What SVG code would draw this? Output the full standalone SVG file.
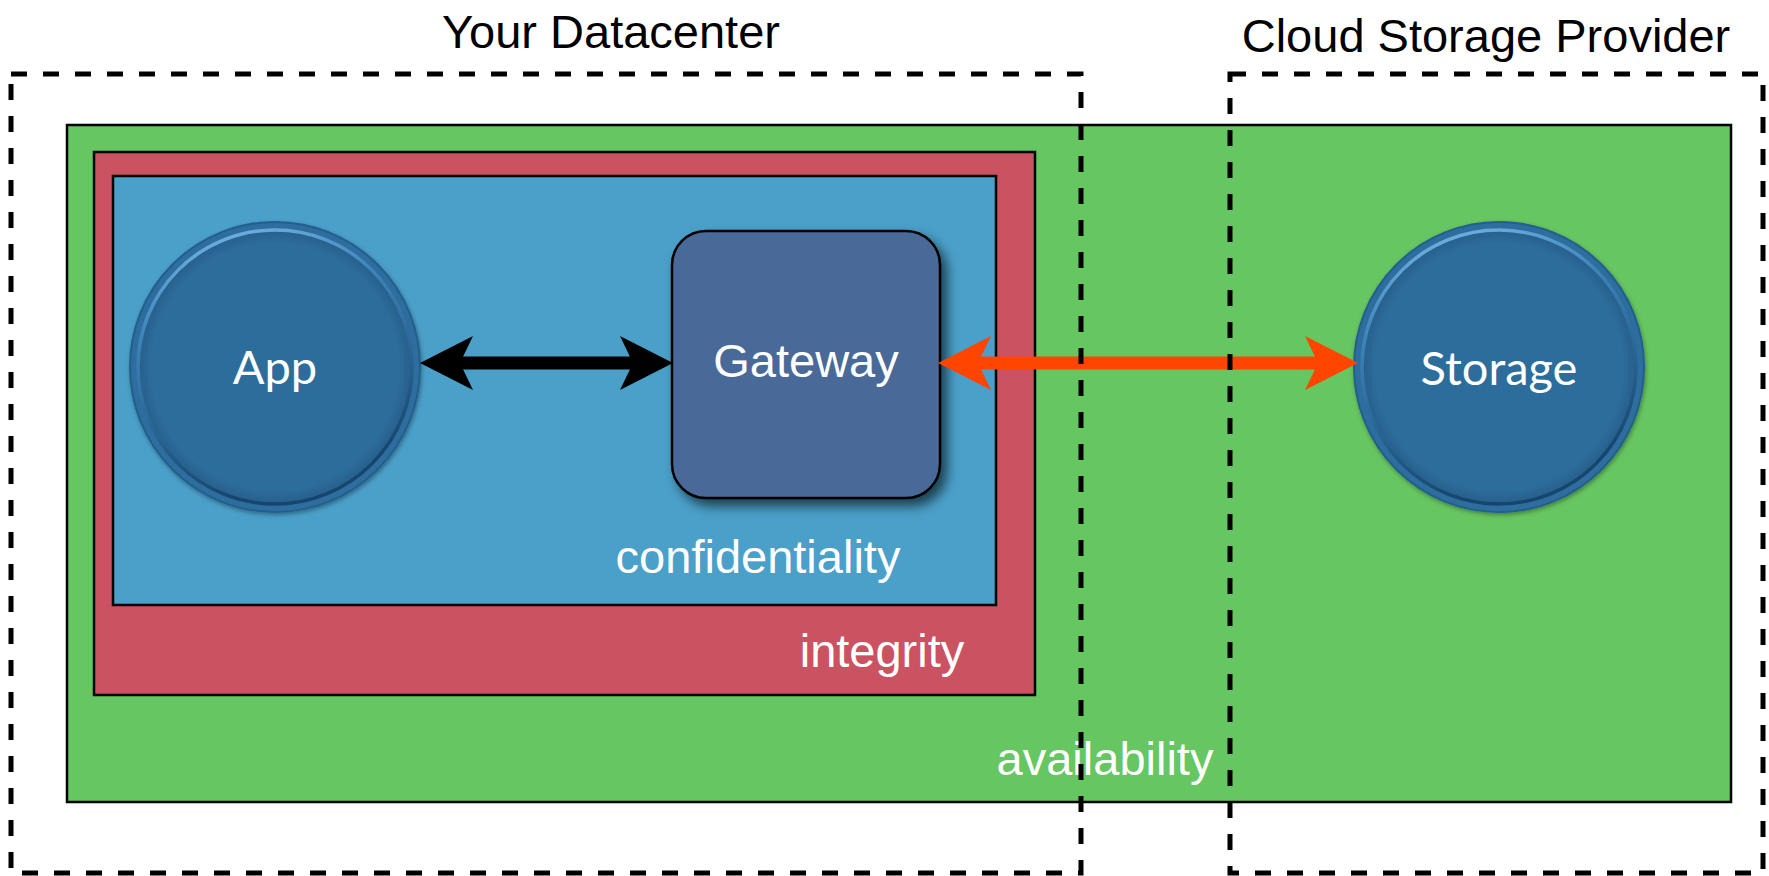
<svg xmlns="http://www.w3.org/2000/svg" width="1769" height="876" viewBox="0 0 1769 876">
  <style>
    .title { font-family: "Liberation Sans", Arial, sans-serif; font-size: 47px; fill: #000; text-anchor: middle; }
    .zone-label { font-family: "Liberation Sans", Arial, sans-serif; font-size: 47px; fill: #fff; text-anchor: middle; }
    .node-label { font-family: Lato, "Open Sans", sans-serif; font-size: 47px; fill: #fff; text-anchor: middle; }
    .gw-label { font-family: "Liberation Sans", Arial, sans-serif; font-size: 47px; fill: #fff; text-anchor: middle; }
    .zone { stroke: #000; stroke-width: 2.5; }
    .dashed { fill: none; stroke: #000; stroke-width: 5; stroke-dasharray: 16 16; }
    .circle-outer { fill: #2E6E9E; stroke: #245E8C; stroke-width: 2; }
    .circle-ring { fill: none; stroke: url(#bevel); stroke-width: 3.5; }
    .circle-inner { fill: url(#innerFill); }
  </style>
  <defs>
    <linearGradient id="bevel" x1="0" y1="0" x2="0.3" y2="1">
      <stop offset="0" stop-color="#7DBDEB"/>
      <stop offset="0.35" stop-color="#3F86BC"/>
      <stop offset="1" stop-color="#16456E"/>
    </linearGradient>
    <radialGradient id="innerFill" cx="0.5" cy="0.5" r="0.5">
      <stop offset="0.9" stop-color="#2D6D9C"/>
      <stop offset="1" stop-color="#275F8B"/>
    </radialGradient>
    <filter id="shadow" x="-20%" y="-20%" width="150%" height="150%">
      <feDropShadow dx="6" dy="7" stdDeviation="6" flood-color="#000" flood-opacity="0.6"/>
    </filter>
    <filter id="softShadow" x="-10%" y="-10%" width="125%" height="125%">
      <feDropShadow dx="1" dy="2" stdDeviation="2" flood-color="#000" flood-opacity="0.35"/>
    </filter>
    <marker id="headBlack" viewBox="0 -27 53 54" refX="13" refY="0" markerWidth="53" markerHeight="54" markerUnits="userSpaceOnUse" orient="auto-start-reverse">
      <path d="M53,0 L0,-27 L13,0 L0,27 Z" fill="#000"/>
    </marker>
    <marker id="headOrange" viewBox="0 -27 53 54" refX="13" refY="0" markerWidth="53" markerHeight="54" markerUnits="userSpaceOnUse" orient="auto-start-reverse">
      <path d="M53,0 L0,-27 L13,0 L0,27 Z" fill="#FF4500"/>
    </marker>
  </defs>

  <rect width="1769" height="876" fill="#fff"/>

  <g id="zone-availability">
    <rect class="zone" x="67" y="125" width="1664" height="677" fill="#66C661"/>
    <text class="zone-label" x="1105" y="775">availability</text>
  </g>
  <g id="zone-integrity">
    <rect class="zone" x="94" y="152" width="941" height="543" fill="#CB5261"/>
    <text class="zone-label" x="882" y="667">integrity</text>
  </g>
  <g id="zone-confidentiality">
    <rect class="zone" x="113" y="176" width="883" height="429" fill="#4AA0C9"/>
    <text class="zone-label" x="758" y="573">confidentiality</text>
  </g>

  <g id="node-app">
    <circle class="circle-outer" cx="275" cy="367" r="145" filter="url(#softShadow)"/>
    <circle class="circle-inner" cx="275" cy="367" r="137"/>
    <circle class="circle-ring" cx="275" cy="367" r="137"/>
    <text class="node-label" x="275" y="384">App</text>
  </g>

  <g id="node-gateway">
    <rect x="672" y="231" width="268" height="267" rx="34" ry="34" fill="#4A6A98" stroke="#000" stroke-width="2.5" filter="url(#shadow)"/>
    <text class="gw-label" x="806" y="377">Gateway</text>
  </g>

  <g id="node-storage">
    <circle class="circle-outer" cx="1499" cy="367" r="145" filter="url(#softShadow)"/>
    <circle class="circle-inner" cx="1499" cy="367" r="137"/>
    <circle class="circle-ring" cx="1499" cy="367" r="137"/>
    <text class="node-label" x="1499" y="385">Storage</text>
  </g>

  <g id="connectors">
    <line x1="460" y1="363" x2="633" y2="363" stroke="#000" stroke-width="13" marker-start="url(#headBlack)" marker-end="url(#headBlack)"/>
    <line x1="978" y1="363" x2="1318" y2="363" stroke="#FF4500" stroke-width="13" marker-start="url(#headOrange)" marker-end="url(#headOrange)"/>
  </g>

  <g id="region-datacenter">
    <rect class="dashed" x="11" y="74" width="1070" height="799"/>
    <text class="title" x="611" y="48">Your Datacenter</text>
  </g>
  <g id="region-cloud">
    <rect class="dashed" x="1230" y="74" width="533" height="799"/>
    <text class="title" x="1486" y="52">Cloud Storage Provider</text>
  </g>
</svg>
